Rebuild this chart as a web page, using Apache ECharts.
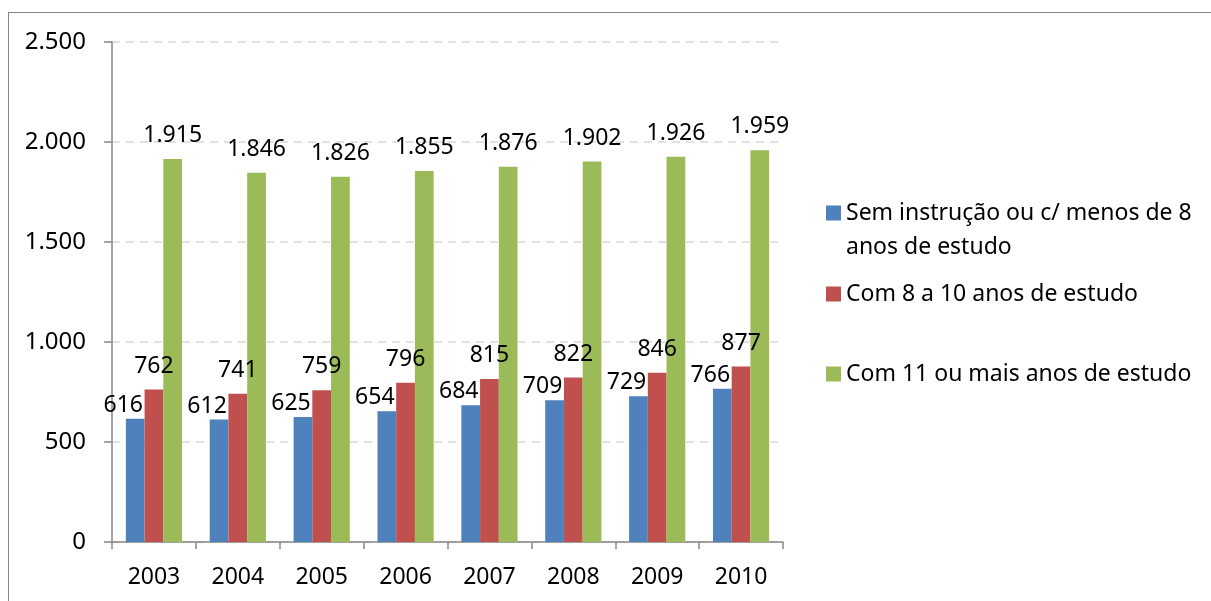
<!DOCTYPE html>
<html>
<head>
<meta charset="utf-8">
<script src="https://cdn.jsdelivr.net/npm/echarts@6/dist/echarts.min.js"></script>
<style>
  html, body { margin: 0; padding: 0; background: #fff; }
  #frame { position: absolute; left: 8px; top: 12px; width: 1203px; height: 600px;
           border-left: 1px solid #868686; border-top: 1px solid #868686; }
  #chart { position: absolute; left: 0; top: 0; width: 1211px; height: 601px; }
</style>
</head>
<body>
<div id="frame"></div>
<div id="chart"></div>
<script>
// anos
const years = ['2003', '2004', '2005', '2006', '2007', '2008', '2009', '2010'];

// rendimento por escolaridade
const semInstrucao = [616, 612, 625, 654, 684, 709, 729, 766];
const com8a10 = [762, 741, 759, 796, 815, 822, 846, 877];
const com11mais = [1915, 1846, 1826, 1855, 1876, 1902, 1926, 1959];

const seriesNames = [
    'Sem instrução ou c/ menos de 8 anos de estudo',
    'Com 8 a 10 anos de estudo',
    'Com 11 ou mais anos de estudo'
];

const FONT = 'Noto Sans';

// 2.500 style
function fmt(v) {
    return String(v).replace(/\B(?=(\d{3})+(?!\d))/g, '.');
}

const chart = echarts.init(document.getElementById('chart'));

function legendAt(name, top, extra) {
    return Object.assign({
        data: [name],
        left: 826,
        top: top,
        orient: 'vertical',
        icon: 'rect',
        itemWidth: 15,
        itemHeight: 15,
        itemGap: 6,
        padding: 0,
        selectedMode: false,
        textStyle: { fontFamily: FONT, fontSize: 23, color: '#000', lineHeight: 34 }
    }, extra || {});
}

function barLabel(dist, offset) {
    return {
        show: true,
        position: 'top',
        distance: dist,
        offset: offset,
        fontFamily: FONT,
        fontSize: 23,
        color: '#000',
        formatter: p => fmt(p.value)
    };
}

const option = {
    backgroundColor: 'transparent',
    animation: false,
    grid: { left: 112, right: 428, top: 42, bottom: 59 },
    legend: [
        // leading empty line keeps the icon next to the first line
        legendAt(seriesNames[0], 162, {
            formatter: () => '\nSem instrução ou c/ menos de 8\nanos de estudo'
        }),
        legendAt(seriesNames[1], 277),
        legendAt(seriesNames[2], 357)
    ],
    xAxis: {
        type: 'category',
        data: years,
        axisLine: { lineStyle: { color: '#868686', width: 1.5 } },
        axisTick: { show: true, length: 7, lineStyle: { color: '#868686', width: 1.5 } },
        axisLabel: { fontFamily: FONT, fontSize: 23, color: '#000', margin: 24 }
    },
    yAxis: {
        type: 'value',
        min: 0,
        max: 2500,
        interval: 500,
        axisLine: { show: true, lineStyle: { color: '#868686', width: 1.5 } },
        axisTick: { show: true, length: 8, lineStyle: { color: '#868686', width: 1.5 } },
        axisLabel: { fontFamily: FONT, fontSize: 24, color: '#000', margin: 26, formatter: v => fmt(v) },
        splitLine: { lineStyle: { color: '#d9d9d9', type: [8, 6], width: 1.5 } }
    },
    series: [
        {
            name: seriesNames[0],
            type: 'bar',
            data: semInstrucao,
            barGap: '0%',
            barCategoryGap: '33%',
            itemStyle: { color: '#4f81bd' },
            label: barLabel(2, [-12, 0])
        },
        {
            name: seriesNames[1],
            type: 'bar',
            data: com8a10,
            barGap: '0%',
            barCategoryGap: '33%',
            itemStyle: { color: '#c0504d' },
            label: barLabel(12, [0, 0])
        },
        {
            name: seriesNames[2],
            type: 'bar',
            data: com11mais,
            barGap: '0%',
            barCategoryGap: '33%',
            itemStyle: { color: '#9bbb59' },
            label: barLabel(12, [0, 0])
        }
    ]
};

chart.setOption(option);
</script>
</body>
</html>
